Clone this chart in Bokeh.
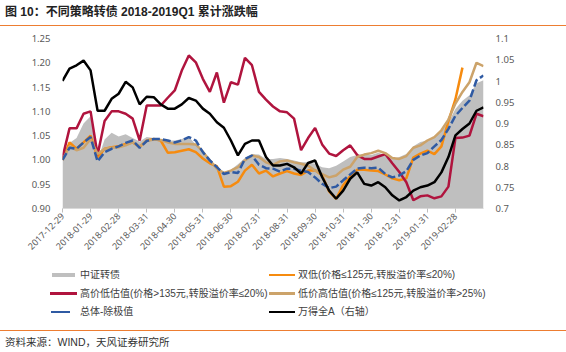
import math
from bokeh.plotting import figure
from bokeh.layouts import column
from bokeh.models import (Range1d, LinearAxis, FixedTicker, CustomJSTickFormatter,
                          PrintfTickFormatter, ColumnDataSource, Div)
from bokeh.embed import file_html
from bokeh.resources import INLINE

nan = float("nan")

# ---------------- data (one point per ~week, index 0 = 2017-12-29) ----------------
period = list(range(61))
tick_positions = [0, 4, 8, 12, 16, 20, 24, 28, 32, 36, 40, 44, 48, 52, 56]
tick_labels = ["2017-12-29", "2018-01-29", "2018-02-28", "2018-03-31", "2018-04-30",
               "2018-05-31", "2018-06-30", "2018-07-31", "2018-08-31", "2018-09-30",
               "2018-10-31", "2018-11-30", "2018-12-31", "2019-01-31", "2019-02-28"]

cb_index = [1.0, 1.035, 1.045, 1.075, 1.09, 1.0, 1.042, 1.056, 1.048, 1.053, 1.045, 1.038,
            1.047, 1.045, 1.043, 1.04, 1.04, 1.043, 1.047, 1.032, 1.012, 0.999, 0.987, 0.975,
            0.98, 0.991, 1.004, 1.012, 1.011,
            1.002, 1.002, 1.004, 1.002, 0.999, 0.995, 0.995, 0.992, 0.985, 0.983, 0.988, 0.997,
            1.006, 1.01, 1.012, 1.01, 1.015, 1.01, 1.002, 1.006, 1.012, 1.028, 1.037, 1.04,
            1.047, 1.059, 1.078, 1.105, 1.122, 1.133, 1.158, 1.164]

double_low = [1.0, 1.036, 1.023, 1.036, 1.05, 1.005, 1.023, 1.026, 1.028, 1.033, 1.036, 1.027,
              1.04, 1.043, 1.04, 1.015, 1.016, 1.019, 1.022, 1.016, 1.003, 0.993, 0.987, 0.945,
              0.946, 0.955, 0.978, 0.99, 0.972, 0.978, 0.966,
              0.972, 0.977, 0.972, 0.969, 0.978, 0.979, 0.968, 0.935, 0.92, 0.948, 0.967, 0.98,
              0.98, 0.978, 0.977, 0.97, 0.962, 0.958, 0.962, 1.005, 1.013, 1.019, 1.012, 1.028,
              1.08, 1.125, 1.19, nan, nan, nan]

high_price_low_val = [1.005, 1.065, 1.065, 1.095, 1.10, 1.01, 1.08, 1.1, 1.1, 1.095, 1.085,
                      1.04, 1.112, 1.112, 1.112, 1.128, 1.143, 1.184, 1.215, 1.201, 1.167, 1.14,
                      1.18, 1.118, 1.16, 1.155, 1.21, 1.195, 1.14,
                      1.124, 1.11, 1.10, 1.098, 1.085, 1.02, 1.045, 1.066, 1.032, 1.013, 1.008,
                      1.02, 1.03, 1.01, 1.002, 1.002, 1.007, 1.012, 0.993, 0.975, 0.954, 0.917,
                      0.925, 0.927, 0.921, 0.925, 0.945, 1.045, 1.046, 1.05, 1.095, 1.09]

low_price_high_val = [1.0, 1.028, 1.02, 1.025, 1.043, 1.012, 1.023, 1.025, 1.026, 1.03, 1.036,
                      1.028, 1.039, 1.042, 1.041, 1.036, 1.033, 1.033, 1.033, 1.032, 1.017,
                      0.999, 0.982, 0.973, 0.978, 0.985, 0.999, 1.009, 1.006,
                      0.995, 0.99, 0.997, 0.999, 0.995, 0.992, 0.988, 0.978, 0.971, 0.964, 0.968,
                      0.98, 0.986, 1.006, 1.011, 1.014, 1.019, 1.014, 1.004, 1.002, 1.008, 1.025,
                      1.03, 1.04, 1.047, 1.061, 1.083, 1.116, 1.14, 1.16, 1.2, 1.193]

overall_ex = [1.0, 1.025, 1.023, 1.036, 1.047, 0.997, 1.016, 1.023, 1.028, 1.035, 1.04, 1.025,
              1.039, 1.043, 1.043, 1.04, 1.036, 1.04, 1.047, 1.04, 1.016, 0.999, 0.985, 0.971,
              0.975, 0.973, 1.002, 1.009, 0.99,
              0.983, 0.982, 0.976, 0.982, 0.982, 0.978, 0.975, 0.964, 0.951, 0.942, 0.945,
              0.958, 0.97, 0.982, 0.984, 0.983, 0.984, 0.971, 0.964, 0.968, 0.977, 1.0, 1.009,
              1.014, 1.028, 1.041, 1.064, 1.091, 1.107, 1.122, 1.164, 1.174]

wind_a = [1.0, 1.029, 1.037, 1.048, 1.025, 0.93, 0.93, 0.958, 0.97, 0.998, 0.985, 0.945, 0.963,
          0.962, 0.945, 0.935, 0.935, 0.945, 0.96, 0.954, 0.935, 0.923, 0.903, 0.89, 0.86, 0.825,
          0.852, 0.86, 0.86,
          0.821, 0.801, 0.801, 0.805, 0.797, 0.782, 0.807, 0.813, 0.774, 0.742, 0.723, 0.742,
          0.77, 0.785, 0.758, 0.754, 0.762, 0.75, 0.731, 0.719, 0.727, 0.742, 0.75, 0.754,
          0.762, 0.785, 0.821, 0.872, 0.887, 0.9, 0.93, 0.938]

left_ticks = [0.90, 0.95, 1.00, 1.05, 1.10, 1.15, 1.20, 1.25]
right_ticks = [0.7, 0.75, 0.8, 0.85, 0.9, 0.95, 1.0, 1.05, 1.1]

series_names = ["中证转债", "双低(价格≤125元,转股溢价率≤20%)", "高价低估值(价格>135元,转股溢价率≤20%)",
                "低价高估值(价格≤125元,转股溢价率>25%)", "总体-除极值", "万得全A（右轴）"]
title_text = "图 10：不同策略转债 2018-2019Q1 累计涨跌幅"
source_text = "资料来源：WIND，天风证券研究所"

# ---------------- styles ----------------
GRAY = "#BFBFBF"
ORANGE = "#F68B0F"
RED = "#B0143E"
TAN = "#CCA36A"
BLUE = "#2F5AA3"
BLACK = "#000000"
RULE = "#ED7D31"
TXT = "#595959"
FONT = "'Liberation Sans', 'Noto Sans CJK SC', sans-serif"
NUM = "Noto Sans"

W = 566
H_TOP, H_MAIN, H_BOT = 26, 244, 82          # canvas bands: 0-26, 26-270, 270-352
FL, FR = 62, 483                            # frame left/right (canvas px)
FT, FB = 38 - H_TOP, 208 - H_TOP            # frame top/bottom inside main figure


def box(left, top, width, height, color):
    return (f'<div style="position:absolute;left:{left}px;top:{top}px;width:{width}px;'
            f'height:{height}px;background:{color};"></div>')


def txt(left, mid, text, size=10, bold=False, color="#404040"):
    lh = size + 4
    return (f'<div style="position:absolute;left:{left}px;top:{mid - lh / 2}px;'
            f'line-height:{lh}px;font-size:{size}px;font-weight:{"bold" if bold else "normal"};'
            f'color:{color};white-space:nowrap;font-family:{FONT};">{text}</div>')


# ---------------- top band: title + rule ----------------
top_html = (f'<div style="position:relative;width:{W}px;height:{H_TOP}px;overflow:hidden;">'
            + txt(5, 12, title_text, size=12, bold=True, color="#222222")
            + box(0, 24.5, W, 1.5, RULE) + '</div>')
top = Div(text=top_html, width=W, height=H_TOP, margin=0)

# ---------------- main chart ----------------
src = ColumnDataSource(dict(x=period, cb=cb_index, dl=double_low, hl=high_price_low_val,
                            lh=low_price_high_val, ov=overall_ex, wa=wind_a,
                            base=[left_ticks[0]] * len(period)))

p = figure(width=W, height=H_MAIN, output_backend="svg", toolbar_location=None,
           x_range=Range1d(0, 60), y_range=Range1d(0.90, 1.25),
           min_border_left=FL, min_border_right=W - FR, min_border_top=FT,
           min_border_bottom=H_MAIN - FB, margin=0)
p.extra_y_ranges = {"right": Range1d(0.7, 1.1)}
p.outline_line_color = None
p.xgrid.visible = False
p.ygrid.visible = False

p.varea(x="x", y1="base", y2="cb", source=src, fill_color=GRAY)
p.line(x="x", y="dl", source=src, line_color=ORANGE, line_width=2.5)
p.line(x="x", y="hl", source=src, line_color=RED, line_width=2.5)
p.line(x="x", y="lh", source=src, line_color=TAN, line_width=2.5)
p.line(x="x", y="ov", source=src, line_color=BLUE, line_width=2.5, line_dash="8 3")
p.line(x="x", y="wa", source=src, line_color=BLACK, line_width=2.5, y_range_name="right")

xa = p.xaxis[0]
xa.ticker = FixedTicker(ticks=tick_positions)
xa.major_label_overrides = {t: l for t, l in zip(tick_positions, tick_labels)}
xa.major_label_orientation = math.pi / 4
xa.axis_line_color = "#D9D9D9"
xa.major_tick_line_color = "#BFBFBF"
xa.major_tick_out = 4
xa.major_tick_in = 0
xa.minor_tick_line_color = None
xa.major_label_standoff = 2
xa.major_label_text_font = NUM
xa.major_label_text_font_size = "9px"
xa.major_label_text_color = TXT

ya = p.yaxis[0]
ya.ticker = FixedTicker(ticks=left_ticks)
ya.formatter = PrintfTickFormatter(format="%.2f")
ya.axis_line_color = None
ya.major_tick_line_color = None
ya.minor_tick_line_color = None
ya.major_tick_out = 0
ya.major_label_standoff = 12
ya.major_label_text_font = NUM
ya.major_label_text_font_size = "9.5px"
ya.major_label_text_color = TXT

ra = LinearAxis(y_range_name="right", ticker=FixedTicker(ticks=right_ticks),
                formatter=CustomJSTickFormatter(code="return String(parseFloat(tick.toFixed(2)));"))
ra.axis_line_color = None
ra.major_tick_line_color = None
ra.minor_tick_line_color = None
ra.major_tick_out = 0
ra.major_label_standoff = 12
ra.major_label_text_font = NUM
ra.major_label_text_font_size = "9.5px"
ra.major_label_text_color = TXT
p.add_layout(ra, "right")

# ---------------- bottom band: legend, rule, source ----------------
rows = [5, 23.5, 42]
sw = [(52, 23, 4, GRAY), (269, 26, 2.5, ORANGE), (50, 27, 2.5, RED),
      (269, 26, 2.5, TAN), (51, 19, 2.5, BLUE), (269, 26, 2.5, BLACK)]
txt_x = [80, 298, 80, 298, 80, 298]
parts = []
for i, name in enumerate(series_names):
    r = rows[i // 2]
    left, width, hgt, color = sw[i]
    parts.append(box(left, r - hgt / 2, width, hgt, color))
    parts.append(txt(txt_x[i], r, name, size=10))
parts.append(box(0, 59.5, W, 1.5, RULE))
parts.append(txt(5, 72, source_text, size=10.5, color="#333333"))
bot_html = (f'<div style="position:relative;width:{W}px;height:{H_BOT}px;overflow:hidden;">'
            + "".join(parts) + '</div>')
bot = Div(text=bot_html, width=W, height=H_BOT, margin=0)

layout = column(top, p, bot, spacing=0, margin=0)
open("out.html", "w").write(file_html(layout, INLINE))
